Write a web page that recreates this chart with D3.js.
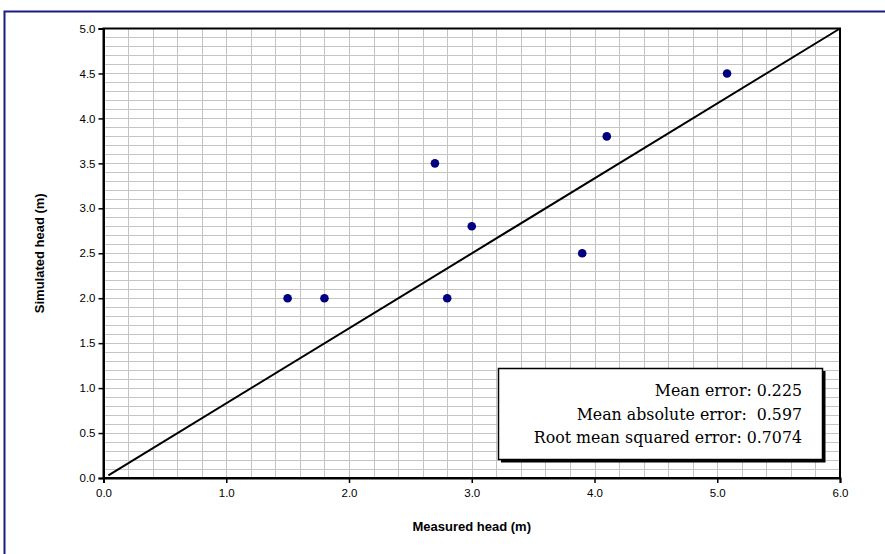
<!DOCTYPE html>
<html>
<head>
<meta charset="utf-8">
<script src="https://cdn.jsdelivr.net/npm/d3@7"></script>
<style>
  body { margin: 0; background: #fff; }
  text { font-family: Arial, "Liberation Sans", sans-serif; }
  text.stats { font-family: "DejaVu Serif", serif; white-space: pre; }
</style>
</head>
<body>
<div id="chart"></div>
<script>
const width = 885;
const height = 554;

// measured vs simulated heads
const measured = [1.5, 1.8, 2.7, 2.8, 3.0, 3.9, 4.1, 5.08];
const simulated = [2.0, 2.0, 3.5, 2.0, 2.8, 2.5, 3.8, 4.5];
const lineX = [0.04, 6.0];
const lineY = [0.03, 5.0];
const xTicks = [0, 1, 2, 3, 4, 5, 6];
const yTicks = [0, 0.5, 1, 1.5, 2, 2.5, 3, 3.5, 4, 4.5, 5];
const statsText = [
  "Mean error: 0.225",
  "Mean absolute error:  0.597",
  "Root mean squared error: 0.7074"
];

const svg = d3.select("#chart").append("svg")
  .attr("width", width)
  .attr("height", height);

// outer frame
svg.append("rect")
  .attr("x", 4.5).attr("y", 11.5)
  .attr("width", 1000).attr("height", 1000)
  .attr("fill", "none")
  .attr("stroke", "#1a1a8c")
  .attr("stroke-width", 2);

const plotL = 103.5, plotR = 840, plotT = 28.5, plotB = 478;

const x = d3.scaleLinear().domain([0, 6]).range([plotL, plotR]);
const y = d3.scaleLinear().domain([0, 5]).range([plotB, plotT]);

// grid
const grid = svg.append("g").attr("stroke", "#c4c4c4").attr("stroke-width", 1);
grid.selectAll("line.v")
  .data(d3.range(1, 30).map(i => i * 0.2))
  .enter().append("line")
    .attr("x1", d => Math.round(x(d)) + 0.5)
    .attr("x2", d => Math.round(x(d)) + 0.5)
    .attr("y1", plotT).attr("y2", plotB);
grid.selectAll("line.h")
  .data(d3.range(1, 50).map(i => i * 0.1))
  .enter().append("line")
    .attr("y1", d => Math.round(y(d)) + 0.5)
    .attr("y2", d => Math.round(y(d)) + 0.5)
    .attr("x1", plotL).attr("x2", plotR);

// plot box
svg.append("rect")
  .attr("x", plotL).attr("y", plotT)
  .attr("width", plotR - plotL).attr("height", plotB - plotT)
  .attr("fill", "none")
  .attr("stroke", "#000")
  .attr("stroke-width", 2);

// axes
const xAxis = svg.append("g")
  .attr("transform", `translate(0,${plotB})`)
  .call(d3.axisBottom(x).tickValues(xTicks).tickFormat(d3.format(".1f")).tickSize(5).tickPadding(6));
const yAxis = svg.append("g")
  .attr("transform", `translate(${plotL},0)`)
  .call(d3.axisLeft(y).tickValues(yTicks).tickFormat(d3.format(".1f")).tickSize(5).tickPadding(3));
[xAxis, yAxis].forEach(a => {
  a.select(".domain").attr("stroke", "#000").attr("stroke-width", 2);
  a.selectAll(".tick line").attr("stroke", "#000").attr("stroke-width", 1.5);
  a.selectAll(".tick text").attr("font-size", 11.5).attr("fill", "#000");
});

// diagonal line
svg.append("path")
  .datum(lineX.map((d, i) => [d, lineY[i]]))
  .attr("d", d3.line().x(d => x(d[0])).y(d => y(d[1])))
  .attr("stroke", "#000")
  .attr("stroke-width", 2)
  .attr("fill", "none");

// points
svg.append("g").selectAll("circle")
  .data(measured.map((d, i) => [d, simulated[i]]))
  .enter().append("circle")
    .attr("cx", d => x(d[0]))
    .attr("cy", d => y(d[1]))
    .attr("r", 4.3)
    .attr("fill", "#000080");

// stats box with shadow
svg.append("rect")
  .attr("x", 501).attr("y", 371)
  .attr("width", 324.5).attr("height", 91.5)
  .attr("fill", "#000");
svg.append("rect")
  .attr("x", 498.5).attr("y", 368.5)
  .attr("width", 324).attr("height", 91)
  .attr("fill", "#fff")
  .attr("stroke", "#000")
  .attr("stroke-width", 1.5);
svg.append("g").selectAll("text")
  .data(statsText)
  .enter().append("text")
    .attr("class", "stats")
    .attr("x", 802)
    .attr("y", (d, i) => 396 + i * 23.5)
    .attr("text-anchor", "end")
    .attr("font-size", 15.8)
    .attr("fill", "#000")
    .text(d => d);

// axis titles
svg.append("text")
  .attr("x", (plotL + plotR) / 2)
  .attr("y", 531)
  .attr("text-anchor", "middle")
  .attr("font-size", 13)
  .attr("font-weight", "bold")
  .text("Measured head (m)");
svg.append("text")
  .attr("transform", `translate(44,${(plotT + plotB) / 2}) rotate(-90)`)
  .attr("text-anchor", "middle")
  .attr("font-size", 13)
  .attr("font-weight", "bold")
  .text("Simulated head (m)");
</script>
</body>
</html>
